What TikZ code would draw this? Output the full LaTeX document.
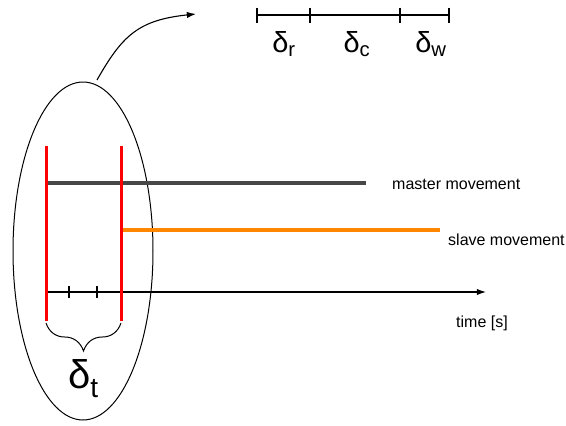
\documentclass[tikz,border=0pt]{standalone}
\usepackage{fontspec}
\setmainfont{Liberation Sans}
\usetikzlibrary{positioning,arrows.meta,decorations.pathreplacing,shapes.geometric,calc}

\begin{document}
\begin{tikzpicture}[
    x=1pt, y=-1pt,
    font=\fontsize{16}{19}\selectfont,
    limit/.style={red, line width=3pt},
    motion/.style={line width=4.8pt},
    rule/.style={line width=1.1pt},
    pointer/.style={-{Latex[length=3.2mm, width=2.2mm]}, line width=1.1pt},
    tag/.style={anchor=west, inner sep=0pt},
    delta/.style={inner sep=0pt, font=\fontsize{#1}{#1}\selectfont},
]
    \useasboundingbox (0,0) rectangle (566,426);
    % ellipse around the two red limits
    \node[draw, ellipse, line width=1pt, minimum width=140, minimum height=338, inner sep=0pt] (zoom) at (83,251) {};
    % red limits
    \coordinate (a0) at (46,146); \coordinate (a1) at (46,321);
    \coordinate (b0) at (121,146); \coordinate (b1) at (121,321);
    % movements
    \coordinate (m0) at (46,183); \coordinate (m1) at (366,183);
    \coordinate (s0) at (121,230); \coordinate (s1) at (440,230);
    \draw[motion, black!72] (m0) -- (m1);
    \draw[motion, orange!95!yellow] (s0) -- (s1);
    \node[tag] (master) at (392,184) {master movement};
    \node[tag] (slave) at (448,240) {slave movement};
    % time axis
    \coordinate (t0) at (46,292); \coordinate (t1) at (486,292);
    \draw[pointer] (t0) -- (t1);
    \foreach \x in {69,97} \draw[rule] (\x,286) -- (\x,298);
    \node[tag] (time) at (456,323) {time [s]};
    \draw[limit] (a0) -- (a1);
    \draw[limit] (b0) -- (b1);
    % brace and delta t
    \coordinate (c0) at ($(a1)+(0,2)$); \coordinate (c1) at ($(b1)+(0,2)$);
    \draw[line width=1pt, decorate, decoration={brace, mirror, amplitude=28}] (c0) -- (c1);
    \node[delta=40, below=36pt of $(c0)!0.5!(c1)$] (dt) {δ\textsubscript{t}};
    % zoomed scale at the top
    \coordinate (z0) at (257,15); \coordinate (z1) at (310,15);
    \coordinate (z2) at (400,15); \coordinate (z3) at (449,15);
    \draw[rule] (z0) -- (z3);
    \foreach \z in {z0,z1,z2,z3} \draw[rule] ($(\z)+(0,-7.5)$) -- ($(\z)+(0,7.5)$);
    \node[delta=29] (dr) at (284,44) {δ\textsubscript{r}};
    \node[delta=29] (dc) at (357,44) {δ\textsubscript{c}};
    \node[delta=29] (dw) at (431,44) {δ\textsubscript{w}};
    \coordinate (p0) at (97,80); \coordinate (p1) at (196,14);
    \draw[pointer] (p0) .. controls (122,36) and (138,20) .. (p1);
\end{tikzpicture}
\end{document}
